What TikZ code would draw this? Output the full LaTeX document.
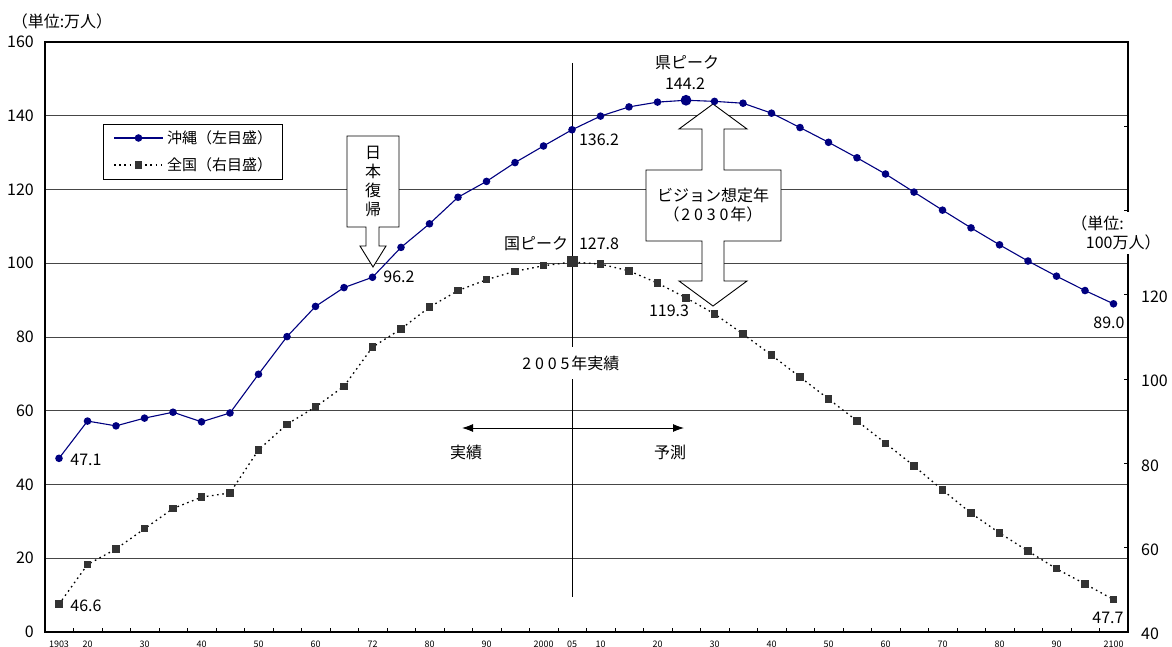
\documentclass[tikz,border=0pt]{standalone}
\usepackage{fontspec}
\setmainfont{Noto Sans CJK JP}
\usepackage{tikz}
\usetikzlibrary{calc}
\usetikzlibrary{arrows.meta}
\definecolor{okinavy}{RGB}{0,0,128}
\definecolor{zengray}{RGB}{51,51,51}
\definecolor{gridgray}{RGB}{70,70,70}
\newcommand{\widedig}[1]{\kern.12em#1\kern.12em}

\begin{document}
\begin{tikzpicture}[x=1pt, y=-1pt,
  lbl/.style={font=\fontsize{16}{19}\selectfont, inner sep=0pt},
  legendlbl/.style={font=\fontsize{15}{18}\selectfont, inner sep=0pt, anchor=west},
  ticklbl/.style={font=\fontsize{9}{10}\selectfont, inner sep=0pt},
  gridline/.style={draw=gridgray, line width=0.8pt},
  frame/.style={draw=black, line width=1.6pt},
  okiline/.style={draw=okinavy, line width=1.1pt},
  zenline/.style={draw=black, line width=1.3pt, dash pattern=on 1.6pt off 3.6pt},
  callout/.style={draw=black, fill=white, line width=0.9pt, line join=miter}]

\useasboundingbox (0,0) rectangle (1172,647);

% grid and frame
\foreach \v in {20,40,...,140}
  \draw[gridline] (45,{632-3.6875*\v}) -- (1128,{632-3.6875*\v});
\draw[frame] (45,42) rectangle (1128,632);
\foreach \k in {1,...,37}
  \draw[line width=0.8pt] ({45+28.5*\k},632) -- ({45+28.5*\k},628);
\foreach \v in {60,80,...,160}
  \draw[line width=0.8pt] (1124,{632-4.2143*(\v-40)}) -- (1128,{632-4.2143*(\v-40)});

% axis labels
\foreach \v in {0,20,...,160}
  \node[lbl, anchor=east] (yl\v) at (34,{632-3.6875*\v}) {\v};
\foreach \v in {40,60,...,120}
  \node[lbl, anchor=west] (yr\v) at (1141,{634-4.2143*(\v-40)}) {\v};
\foreach \i/\t in {0/1903,1/20,3/30,5/40,7/50,9/60,11/72,13/80,15/90,17/2000,
                   18/05,19/10,21/20,23/30,25/40,27/50,29/60,31/70,33/80,35/90,37/2100}
  \node[ticklbl] (xl\i) at ({59+28.5*\i},644) {\t};
\node[lbl] (unitL) at (62,21) {（単位:万人）};

% 2005 line
\coordinate (yrTop) at (572,63);
\coordinate (yrBot) at (572,597);
\draw[line width=0.8pt] (yrTop) -- (yrBot);
\node[lbl, fill=white, inner xsep=2pt, inner ysep=9pt] (yr2005) at (570,363)
  {\widedig2\widedig0\widedig0\widedig5年実績};

% actual / forecast
\coordinate (jsL) at (462,428);
\coordinate (jsR) at (684,428);
\draw[{Latex[length=11pt,width=8pt]}-{Latex[length=11pt,width=8pt]}, line width=0.9pt] (jsL) -- (jsR);
\node[lbl] (jisseki) at (466,452) {実績};
\node[lbl] (yosoku) at (670,452) {予測};

% callouts
\draw[callout] (347,136) -- (399,136) -- (399,227) -- (379,227) -- (379,246) -- (386,246)
  -- (373,267) -- (360,246) -- (366,246) -- (366,227) -- (347,227) -- cycle;
\node[lbl, align=center] (fukki) at (373,181) {日\\本\\復\\帰};
\draw[callout] (713,104) -- (747,129) -- (724,129) -- (724,170) -- (781,170) -- (781,241)
  -- (724,241) -- (724,281) -- (747,281) -- (713,306) -- (679,281) -- (702,281) -- (702,241)
  -- (646,241) -- (646,170) -- (702,170) -- (702,129) -- (679,129) -- cycle;
\node[lbl, align=center] (vision) at (713,205)
  {ビジョン想定年\\（\widedig2\widedig0\widedig3\widedig0年）};

% Okinawa (left scale)
\foreach \v [count=\i from 0] in {47.1,57.2,55.9,58.0,59.6,57.0,59.4,69.9,80.1,88.3,93.4,96.2,
    104.3,110.7,117.9,122.2,127.3,131.8,136.2,139.9,142.4,143.7,144.2,143.9,143.4,140.7,
    136.8,132.8,128.6,124.2,119.3,114.4,109.6,105.0,100.6,96.5,92.6,89.0}
  \coordinate (o\i) at ({59+28.5*\i},{632-3.6875*\v});
% Japan (right scale)
\foreach \v [count=\i from 0] in {46.6,56.0,59.7,64.5,69.3,72.0,73.0,83.2,89.3,93.4,98.3,107.6,
    111.9,117.1,121.0,123.6,125.6,126.9,127.8,127.3,125.7,122.8,119.3,115.5,110.7,105.7,
    100.5,95.3,90.1,84.8,79.4,73.7,68.2,63.5,59.2,55.0,51.4,47.7}
  \coordinate (z\i) at ({59+28.5*\i},{632-4.2143*(\v-40)});

\draw[zenline] (z0) \foreach \i in {1,...,37} {-- (z\i)};
\foreach \i in {0,...,37}
  \fill[zengray] ($(z\i)+(-3.7,-3.7)$) rectangle ($(z\i)+(3.7,3.7)$);
\fill[zengray] ($(z18)+(-5.5,-5.5)$) rectangle ($(z18)+(5.5,5.5)$);

\draw[okiline] (o0) \foreach \i in {1,...,37} {-- (o\i)};
\foreach \i in {0,...,37}
  \fill[okinavy] (o\i) circle (3.8pt);
\fill[okinavy] (o22) circle (5.4pt);

% value labels
\node[lbl] (v471) at (86,460) {47.1};
\node[lbl] (v466) at (86,606) {46.6};
\node[lbl] (v962) at (399,277) {96.2};
\node[lbl] (v1362) at (599,140) {136.2};
\node[lbl] (kenpk) at (687,63) {県ピーク};
\node[lbl] (v1442) at (685,84) {144.2};
\node[lbl] (kunipk) at (536,244) {国ピーク};
\node[lbl] (v1278) at (599,244) {127.8};
\node[lbl] (v1193) at (669,311) {119.3};
\node[lbl] (v890) at (1109,323) {89.0};
\node[lbl] (v477) at (1108,618) {47.7};

% legend
\draw[draw=black, fill=white, line width=0.8pt] (103,124) rectangle (282,179);
\coordinate (lgA1) at (114,138);
\coordinate (lgA2) at (163,138);
\coordinate (lgB1) at (114,165);
\coordinate (lgB2) at (163,165);
\draw[okiline] (lgA1) -- (lgA2);
\fill[okinavy] (138.5,138) circle (3.8pt);
\draw[zenline] (lgB1) -- (lgB2);
\fill[zengray] (134.8,161.3) rectangle (142.2,168.7);
\node[legendlbl] (lgOki) at (167,138) {沖縄（左目盛）};
\node[legendlbl] (lgZen) at (167,165) {全国（右目盛）};

% right unit
\node[lbl, fill=white, align=left, inner xsep=1pt, inner ysep=4pt] (unitR) at (1116,233)
  {（単位:\\\hspace{0.9em}100万人）};
\end{tikzpicture}
\end{document}
